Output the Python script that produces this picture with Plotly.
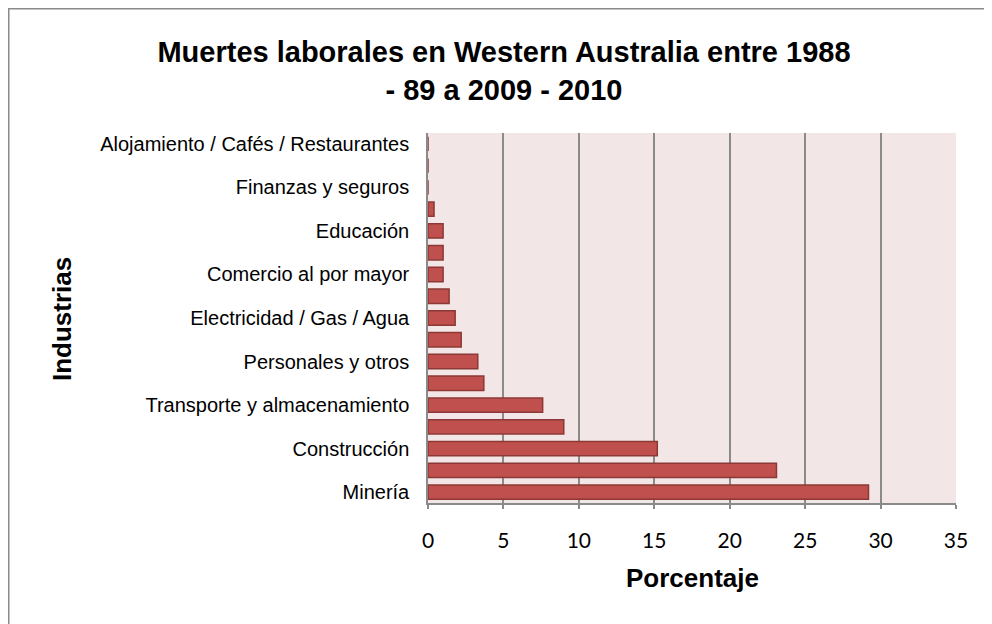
import plotly.graph_objects as go

# Categories from bottom to top (every other label shown, as in the original)
industrias = [
    "Minería",
    "Agricultura / Silvicultura / Pesca",
    "Construcción",
    "Manufactura",
    "Transporte y almacenamiento",
    "Administración pública",
    "Personales y otros",
    "Servicios a empresas",
    "Electricidad / Gas / Agua",
    "Comercio minorista",
    "Comercio al por mayor",
    "Salud y servicios comunitarios",
    "Educación",
    "Servicios culturales y recreativos",
    "Finanzas y seguros",
    "Comunicaciones",
    "Alojamiento / Cafés / Restaurantes",
]
porcentaje = [29.2, 23.1, 15.2, 9.0, 7.6, 3.7, 3.3, 2.2, 1.8, 1.4, 1.0, 1.0, 1.0, 0.4, 0.0, 0.0, 0.0]
etiquetas_visibles = industrias[::2]
x_ticks = [0, 5, 10, 15, 20, 25, 30, 35]

# page has an 8px body margin; figure coordinates = page coordinates - 8
W, H = 984, 616
L, T = 420, 125
R = W - 948
B = H - 495
pw, ph = W - L - R, H - T - B

def px_to_paper_x(px):
    return (px - L) / pw

def px_to_paper_y(py):
    return (H - B - py) / ph

FONT = "Liberation Sans, Arial, sans-serif"
GRID = "#8A8A8A"

fig = go.Figure()
fig.add_trace(go.Bar(
    y=industrias,
    x=porcentaje,
    orientation="h",
    marker=dict(color="#C0504D", line=dict(color="#8C3836", width=1.5)),
    hoverinfo="x+y",
))

fig.update_layout(
    width=W, height=H,
    margin=dict(l=L, r=R, t=T, b=B, pad=0),
    paper_bgcolor="white",
    plot_bgcolor="#F2E7E6",
    bargap=0.34,
    showlegend=False,
    title=dict(
        text="<b>Muertes laborales en Western Australia entre 1988<br>- 89 a 2009 - 2010</b>",
        x=(504 - 8) / W, xanchor="center",
        y=1 - (62 - 8) / H, yanchor="middle",
        font=dict(family=FONT, size=29, color="black"),
    ),
    font=dict(family=FONT, color="black"),
    xaxis=dict(
        range=[0, 35],
        tickvals=x_ticks,
        ticktext=[str(v) for v in x_ticks],
        tickfont=dict(family="Lato, Open Sans, sans-serif", size=21, color="black"),
        showgrid=True, gridcolor=GRID, gridwidth=1.5,
        showline=True, linecolor=GRID, linewidth=1.5,
        ticks="outside", ticklen=4, tickcolor=GRID, tickwidth=1.5,
        ticklabelstandoff=14,
        zeroline=False,
        fixedrange=True,
    ),
    yaxis=dict(
        type="category",
        categoryorder="array", categoryarray=industrias,
        tickvals=etiquetas_visibles,
        ticktext=etiquetas_visibles,
        tickfont=dict(family=FONT, size=20, color="black"),
        showgrid=False,
        showline=True, linecolor=GRID, linewidth=1.5,
        ticks="", ticklabelstandoff=13,
        zeroline=False,
        fixedrange=True,
    ),
    shapes=[
        dict(
            type="line", xref="paper", yref="paper",
            x0=px_to_paper_x(0.75), x1=px_to_paper_x(0.75),
            y0=px_to_paper_y(640), y1=px_to_paper_y(0),
            line=dict(color=GRID, width=1.5), layer="below",
        ),
        dict(
            type="line", xref="paper", yref="paper",
            x0=px_to_paper_x(0), x1=px_to_paper_x(1010),
            y0=px_to_paper_y(0.75), y1=px_to_paper_y(0.75),
            line=dict(color=GRID, width=1.5), layer="below",
        ),
    ],
    annotations=[
        dict(
            text="<b>Industrias</b>", textangle=-90,
            xref="paper", yref="paper",
            x=px_to_paper_x(62 - 8), y=px_to_paper_y(319 - 8),
            xanchor="center", yanchor="middle", showarrow=False,
            font=dict(family=FONT, size=26, color="black"),
        ),
        dict(
            text="<b>Porcentaje</b>",
            xref="paper", yref="paper",
            x=0.5, y=px_to_paper_y(578 - 8),
            xanchor="center", yanchor="middle", showarrow=False,
            font=dict(family=FONT, size=26, color="black"),
        ),
    ],
)

fig.write_html("out.html")
